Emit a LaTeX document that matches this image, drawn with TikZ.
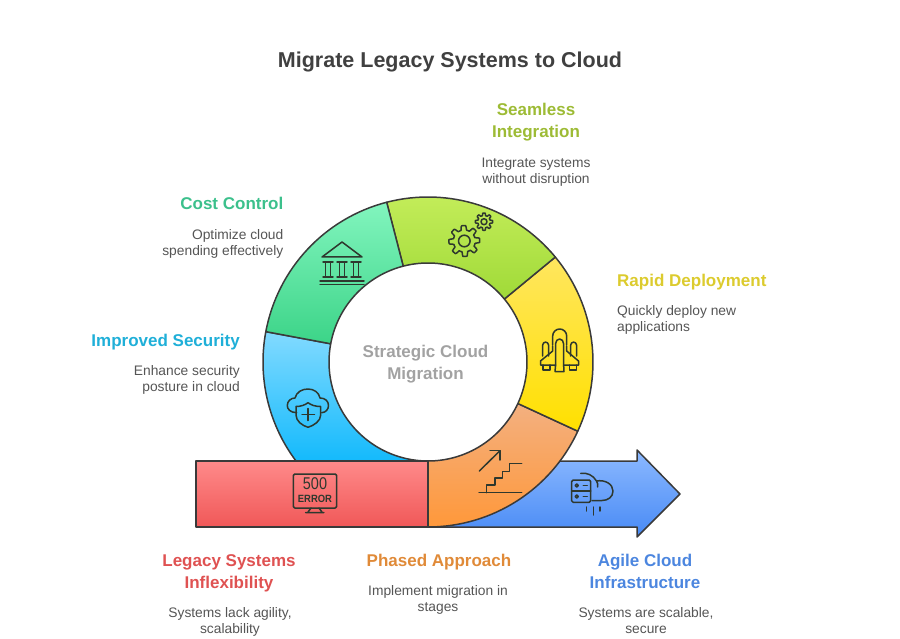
\documentclass[tikz,border=0pt]{standalone}
\usepackage{fontspec}
\setmainfont{Liberation Sans}
\definecolor{ink}{HTML}{3A3A3A}
\definecolor{icon}{HTML}{2E382E}
\definecolor{titlec}{HTML}{404040}
\definecolor{descc}{HTML}{555555}
\definecolor{centerc}{HTML}{A2A2A2}
\definecolor{limeh}{HTML}{9DBB35}
\definecolor{greenh}{HTML}{3CC08C}
\definecolor{blueh}{HTML}{1FAFD8}
\definecolor{yellowh}{HTML}{DCCB2E}
\definecolor{redh}{HTML}{DF5252}
\definecolor{orangeh}{HTML}{E08A38}
\definecolor{arrowh}{HTML}{4C86DF}
\tikzset{
  seg/.style={draw=ink,line width=1.5pt,line join=round},
  ic/.style={draw=icon,line width=1.5pt,line join=round,line cap=round},
  head/.style={font=\fontsize{17}{22}\selectfont\bfseries,align=center,inner sep=0pt},
  descr/.style={font=\fontsize{13.8}{16}\selectfont,text=descc,align=center,inner sep=0pt},
}
\begin{document}
\begin{tikzpicture}[x=1pt,y=-1pt]
\useasboundingbox (0,0) rectangle (900,639);
\coordinate (c) at (428,362);
% arrow
\path[seg,top color={rgb,255:red,140;green,185;blue,255},bottom color={rgb,255:red,72;green,138;blue,245}]
  (428,461) -- (637,461) -- (637,450) -- (680,494) -- (637,537) -- (637,527) -- (428,527) -- cycle;
% blue ring
\path[seg,top color={rgb,255:red,130;green,218;blue,255},bottom color={rgb,255:red,20;green,186;blue,252}]
  ([shift={(190.6:165)}]c) arc[start angle=190.6,end angle=143.13,radius=165] -- (428,461)
  arc[start angle=90,end angle=190.6,radius=99] -- cycle;
% red bar
\path[seg,top color={rgb,255:red,255;green,138;blue,138},bottom color={rgb,255:red,240;green,88;blue,88}]
  (196,461) rectangle (428,527);
% orange
\path[seg,top color={rgb,255:red,243;green,176;blue,128},bottom color={rgb,255:red,255;green,152;blue,58}]
  ([shift={(24.8:165)}]c) arc[start angle=24.8,end angle=90,radius=165] -- (428,461)
  arc[start angle=90,end angle=24.8,radius=99] -- cycle;
% yellow
\path[seg,top color={rgb,255:red,255;green,230;blue,95},bottom color={rgb,255:red,255;green,224;blue,0}]
  ([shift={(-39.5:165)}]c) arc[start angle=-39.5,end angle=24.8,radius=165] -- ([shift={(24.8:99)}]c)
  arc[start angle=24.8,end angle=-39.5,radius=99] -- cycle;
% lime
\path[seg,top color={rgb,255:red,198;green,238;blue,92},bottom color={rgb,255:red,160;green,218;blue,56}]
  ([shift={(-104.5:165)}]c) arc[start angle=-104.5,end angle=-39.5,radius=165] -- ([shift={(-39.5:99)}]c)
  arc[start angle=-39.5,end angle=-104.5,radius=99] -- cycle;
% green
\path[seg,top color={rgb,255:red,130;green,245;blue,190},bottom color={rgb,255:red,60;green,212;blue,136}]
  ([shift={(-169.4:165)}]c) arc[start angle=-169.4,end angle=-104.5,radius=165] -- ([shift={(-104.5:99)}]c)
  arc[start angle=-104.5,end angle=-169.4,radius=99] -- cycle;

% bank icon
\draw[ic] (322,257) -- (342,242) -- (362,257) -- cycle;
\draw[ic] (323,262) -- (333,262) (325.5,262) -- (325.5,277) (330.5,262) -- (330.5,277) (323,277) -- (333,277);
\draw[ic] (337,262) -- (347,262) (339.5,262) -- (339.5,277) (344.5,262) -- (344.5,277) (337,277) -- (347,277);
\draw[ic] (351,262) -- (361,262) (353.5,262) -- (353.5,277) (358.5,262) -- (358.5,277) (351,277) -- (361,277);
\draw[ic] (320,281) -- (364,281) (320,284.5) -- (364,284.5);
% gears
\draw[ic,smooth,samples=145] plot[domain=0:360] ({464.3+(13.2+2.2*max(-1,min(1,2.5*cos(8*\x+22))))*cos(\x)},{241+(13.2+2.2*max(-1,min(1,2.5*cos(8*\x+22))))*sin(\x)}) -- cycle;
\draw[ic] (464.3,241) circle[radius=5.8];
\draw[ic,smooth,samples=145] plot[domain=0:360] ({484+(7.4+1.2*max(-1,min(1,2.5*cos(8*\x))))*cos(\x)},{221.7+(7.4+1.2*max(-1,min(1,2.5*cos(8*\x))))*sin(\x)}) -- cycle;
\draw[ic] (484,221.7) circle[radius=3];
% rocket
\draw[ic] (552.7,345) -- (552.7,336) arc[start angle=180,end angle=360,radius=7] -- (566.7,345);
\draw[ic] (555.5,366) -- (555.5,344) .. controls (555.5,341) and (557.5,339) .. (559.6,339) .. controls (561.7,339) and (563.7,341) .. (563.7,344) -- (563.7,366);
\draw[ic] (542.7,356) -- (542.7,345) arc[start angle=180,end angle=360,radius=2.9] -- (548.5,356);
\draw[ic] (570.7,356) -- (570.7,345) arc[start angle=180,end angle=360,radius=2.9] -- (576.5,356);
\draw[ic] (552.7,346) -- (552.7,351) -- (540.5,361) -- (540.5,365) -- (555.5,365);
\draw[ic] (566.7,346) -- (566.7,351) -- (578.5,361) -- (578.5,365) -- (563.7,365);
\draw[ic] (543,365) -- (543,370) -- (550,370) -- (550,365);
\draw[ic] (569.5,365) -- (569.5,370) -- (576.5,370) -- (576.5,365);
\draw[ic] (555.5,366) -- (555,371.5) -- (564,371.5) -- (563.7,366);
% stairs
\draw[ic] (479,492.7) -- (521.7,492.7);
\draw[ic] (486.7,492.7) -- (486.7,485) -- (495,485) -- (495,478) -- (502.7,478) -- (502.7,471.7) -- (509.3,471.7) -- (509.3,463.3) -- (521.7,463.3);
\draw[ic] (479.3,471) -- (500,450.7);
\draw[ic] (490,450.7) -- (500,450.7) -- (500,460);
% server cloud
\draw[ic,rounded corners=1.5pt] (571.7,480) rectangle (590.7,502.3);
\draw[ic] (571.7,491) -- (590.7,491);
\draw[ic] (576.7,485.5) circle[radius=1.6] (576.7,496.5) circle[radius=1.6];
\draw[ic] (583.3,485.5) -- (587.3,485.5) (583.3,496.5) -- (587.3,496.5);
\draw[ic] (580.7,473.3) .. controls (587,472.5) and (593,475) .. (596.5,481) .. controls (598,483) and (598,485) .. (597.5,487)
   (596.5,481) .. controls (605,479.5) and (613,484) .. (613,491) .. controls (613,497) and (608,500.5) .. (602,500.5) -- (592,500.5);
\draw[ic] (586.7,507) -- (586.7,511) (593.3,507) -- (593.3,515) (600,507) -- (600,511);
% cloud shield
\draw[ic] (296.7,412.7) .. controls (290,412.5) and (287.3,409) .. (287.3,405.5) .. controls (287.3,401) and (291,398) .. (295,398)
   .. controls (296.5,392) and (302,389) .. (308,389) .. controls (314,389) and (319,392.5) .. (320,398)
   .. controls (325,398) and (328.5,401) .. (328.5,405.5) .. controls (328.5,409) and (326,412.5) .. (321.7,412.7);
\draw[ic] (296,406.5) .. controls (301,406.5) and (305,405) .. (308,402.7) .. controls (311,405) and (315,406.5) .. (320.7,406.5)
   -- (320.7,415) .. controls (320.7,421) and (314,425.5) .. (308,427.3) .. controls (302,425.5) and (296,421) .. (296,415) -- cycle;
\draw[ic] (302,414.5) -- (314.5,414.5) (308.2,408.5) -- (308.2,420.5);
% monitor
\draw[ic,rounded corners=1.5pt] (293.3,474) rectangle (336.7,508);
\draw[ic] (311,508) -- (307.7,512.5) (319,508) -- (322.3,512.5) (305.7,512.5) -- (323.8,512.5);
\node[inner sep=0pt,text=icon,font=\fontsize{17}{17}\selectfont] (n500) at (315,484) {\scalebox{0.85}[1]{500}};
\node[inner sep=0pt,text=icon,font=\fontsize{10.5}{10}\selectfont\bfseries] (nerr) at (315,498.5) {\scalebox{0.9}[1]{ERROR}};

% texts
\node[inner sep=0pt,text=titlec,font=\fontsize{21.5}{26}\selectfont\bfseries] (title) at (450,62) {Migrate Legacy Systems to Cloud};
\node[head,text=centerc] (mid) at (425.5,364) {Strategic Cloud\\Migration};
\node[head,text=limeh] (h1) at (536,122.5) {Seamless\\Integration};
\node[descr] (d1) at (536,172) {Integrate systems\\without disruption};
\node[head,text=greenh,anchor=east] (h2) at (283.5,203) {Cost Control};
\node[descr,align=right,anchor=east] (d2) at (283.5,244) {Optimize cloud\\spending effectively};
\node[head,text=blueh,anchor=east] (h3) at (240,342) {Improved Security};
\node[descr,align=right,anchor=east] (d3) at (240,380) {Enhance security\\posture in cloud};
\node[head,text=yellowh,anchor=west] (h4) at (617,282) {Rapid Deployment};
\node[descr,align=left,anchor=west] (d4) at (617,320) {Quickly deploy new\\applications};
\node[head,text=redh] (h5) at (229,573) {Legacy Systems\\Inflexibility};
\node[descr] (d5) at (230,622) {Systems lack agility,\\scalability};
\node[head,text=orangeh] (h6) at (439,562) {Phased Approach};
\node[descr] (d6) at (438,600) {Implement migration in\\stages};
\node[head,text=arrowh] (h7) at (645,571) {Agile Cloud\\Infrastructure};
\node[descr] (d7) at (646,621) {Systems are scalable,\\secure};
\end{tikzpicture}
\end{document}
